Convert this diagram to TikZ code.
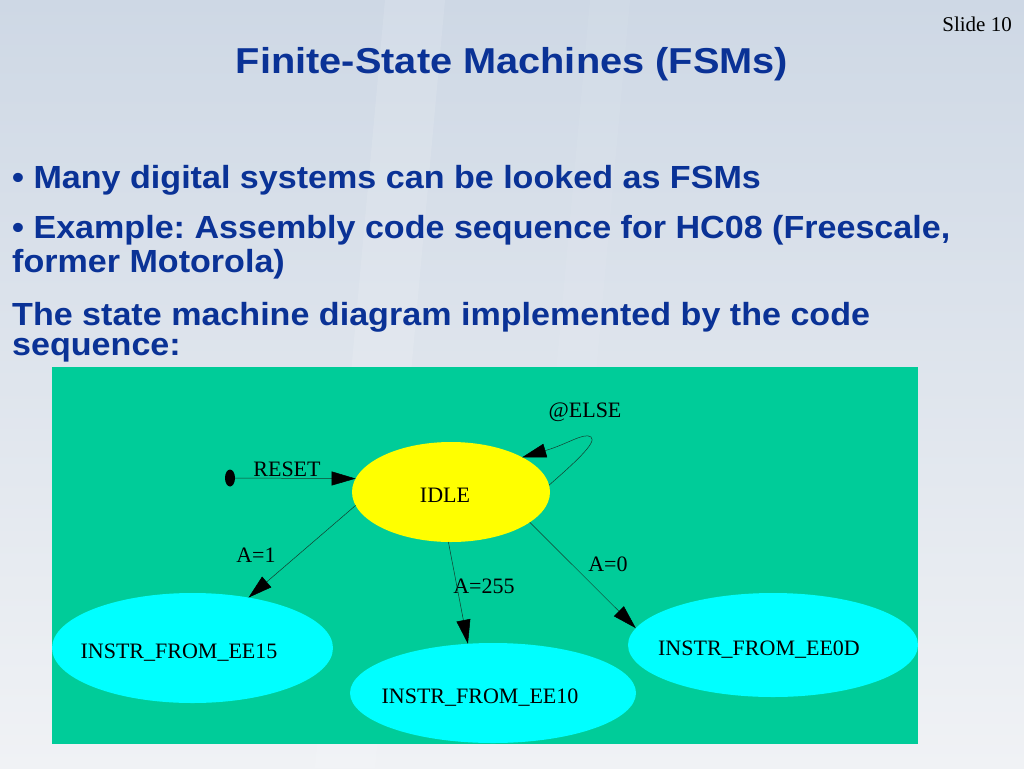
\documentclass[tikz,border=0pt]{standalone}
\usepackage{fontspec}
\setmainfont{Liberation Serif}
\setsansfont{Liberation Sans}
\usetikzlibrary{shapes.geometric,arrows.meta}
\definecolor{txtblue}{RGB}{10,50,150}
\definecolor{fsmgreen}{RGB}{0,204,153}
\definecolor{stcyan}{RGB}{0,255,255}
\definecolor{styellow}{RGB}{255,255,0}
\definecolor{edgecol}{RGB}{20,60,45}
\definecolor{bgtop}{RGB}{206,216,229}
\definecolor{bgbot}{RGB}{240,242,245}
\frenchspacing
\begin{document}
\begin{tikzpicture}[x=1pt,y=-1pt,
  state/.style={ellipse, draw=none, inner sep=0pt, outer sep=0pt},
  lbl/.style={font=\fontsize{22}{22}\selectfont, text=black, inner sep=0pt, anchor=base},
  edge/.style={draw=edgecol, line width=0.5pt, -{Triangle[length=24pt,width=14pt,color=black,fill=black]}},
  heading/.style={font=\sffamily\bfseries\fontsize{32}{32}\selectfont, text=txtblue, inner sep=0pt, anchor=base west},
]
\useasboundingbox (0,0) rectangle (1024,768);
\shade[top color=bgtop, bottom color=bgbot] (0,0) rectangle (1024,768);
\fill[white, opacity=0.12] (385,0) -- (445,0) -- (375,768) -- (315,768) -- cycle;
\fill[white, opacity=0.06] (590,0) -- (630,0) -- (560,768) -- (520,768) -- cycle;
% texts
\node[font=\fontsize{21}{21}\selectfont, anchor=base east, inner sep=0pt] (slide) at (1012,32) {Slide 10};
\node[font=\sffamily\bfseries\fontsize{36}{36}\selectfont, text=txtblue, inner sep=0pt, anchor=base] (title) at (512,74) {\scalebox{1.104}[1]{Finite-State Machines (FSMs)}};
\node[heading] (b1) at (12,188) {\scalebox{1.065}[1]{• Many digital systems can be looked as FSMs}};
\node[heading] (b2) at (12,238) {\scalebox{1.065}[1]{• Example: Assembly code sequence for HC08 (Freescale,}};
\node[heading] (b3) at (12,272) {\scalebox{1.065}[1]{former Motorola)}};
\node[heading] (b4) at (12,325) {\scalebox{1.065}[1]{The state machine diagram implemented by the code}};
\node[heading] (b5) at (12,355) {\scalebox{1.065}[1]{sequence:}};
% diagram
\fill[fsmgreen] (52,367) rectangle (918,744);
\node[state, fill=styellow, minimum width=198pt, minimum height=100pt] (idle) at (451,492) {};
\node[state, fill=stcyan, minimum width=281pt, minimum height=110pt] (ee15) at (192.5,648) {};
\node[state, fill=stcyan, minimum width=286pt, minimum height=100pt] (ee10) at (493,693) {};
\node[state, fill=stcyan, minimum width=290pt, minimum height=104pt] (ee0d) at (773,645) {};
\node[state, fill=black, minimum width=10pt, minimum height=17pt] (init) at (230,478) {};
\node[lbl] (tidle) at (445,502) {IDLE};
\node[lbl] (t15) at (179,658) {INSTR\_FROM\_EE15};
\node[lbl] (t10) at (480,703) {INSTR\_FROM\_EE10};
\node[lbl] (t0d) at (759,655) {INSTR\_FROM\_EE0D};
\node[lbl] (lreset) at (287,476) {RESET};
\node[lbl] (lelse) at (585,417) {@ELSE};
\node[lbl] (la1) at (256,562) {A=1};
\node[lbl] (la255) at (484,593) {A=255};
\node[lbl] (la0) at (608,571) {A=0};
\draw[edge] (init) -- (idle.172);
\draw[edge] (idle.188) -- (ee15.42);
\draw[edge] (idle.267) -- (ee10.117);
\draw[edge] (idle.339) -- (ee0d.173);
\draw[edge] (idle.4) .. controls (572,465) and (598,442) .. (591,437) .. controls (584,432) and (568,444) .. (idle.26);
\end{tikzpicture}
\end{document}
